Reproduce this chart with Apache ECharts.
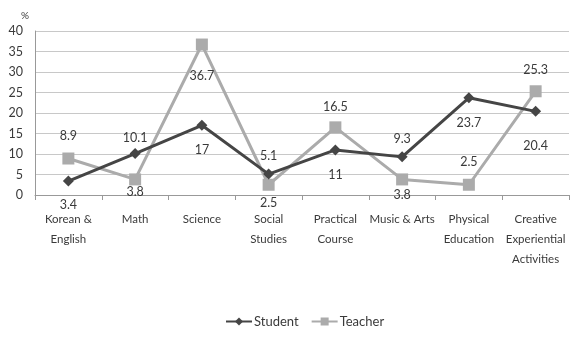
<!DOCTYPE html>
<html>
<head>
<meta charset="utf-8">
<script src="https://cdn.jsdelivr.net/npm/echarts@6/dist/echarts.min.js"></script>
<style>
  html, body { margin: 0; padding: 0; background: #fff; }
  #chart { width: 571px; height: 343px; }
</style>
</head>
<body>
<div id="chart"></div>
<script>
// Subject categories (x axis)
const categories = [
  'Korean &\nEnglish', 'Math', 'Science', 'Social\nStudies',
  'Practical\nCourse', 'Music & Arts', 'Physical\nEducation',
  'Creative\nExperiential\nActivities'
];
// Percentages per group
const studentValues = [3.4, 10.1, 17, 5.1, 11, 9.3, 23.7, 20.4];
const teacherValues = [8.9, 3.8, 36.7, 2.5, 16.5, 3.8, 2.5, 25.3];

// Vertical shift (px) of each value label from its point: negative = above
const studentLabelShift = [24, -16, 25, -18, 25, -18, 25, 35];
const teacherLabelShift = [-23, 13, 31, 18, -20, 16, -23, -21];

const FONT = 'Lato, "Liberation Sans", sans-serif';
const TEXT = '#3a3a3a';

function withLabels(values, shifts) {
  return values.map((v, i) => ({
    value: v,
    label: { position: 'inside', offset: [0, shifts[i]] }
  }));
}

const chart = echarts.init(document.getElementById('chart'));
chart.setOption({
  animation: false,
  textStyle: { fontFamily: FONT },
  grid: { left: 35, right: 2, top: 31, bottom: 148 },
  legend: {
    bottom: 10,
    left: 220,
    itemGap: 12,
    itemWidth: 26,
    itemHeight: 10,
    textStyle: { fontFamily: FONT, fontSize: 13, color: TEXT, padding: [0, 0, 0, -3] },
    data: ['Student', 'Teacher']
  },
  xAxis: {
    type: 'category',
    data: categories,
    boundaryGap: true,
    axisLine: { lineStyle: { color: '#999' } },
    axisTick: { show: true, alignWithLabel: false, length: 5, lineStyle: { color: '#999' } },
    axisLabel: {
      interval: 0,
      fontFamily: FONT,
      fontSize: 11.5,
      color: TEXT,
      lineHeight: 20,
      margin: 14
    }
  },
  yAxis: {
    type: 'value',
    name: '%',
    nameGap: 10,
    nameLocation: 'end',
    nameTextStyle: { fontFamily: FONT, fontSize: 10, color: TEXT, align: 'right', padding: [0, 6, 0, 0] },
    min: 0,
    max: 40,
    interval: 5,
    axisLine: { show: true, lineStyle: { color: '#999' } },
    axisTick: { show: false },
    axisLabel: { fontFamily: FONT, fontSize: 12.5, color: TEXT, margin: 12 },
    splitLine: { lineStyle: { color: '#c8c8c8', width: 1 } }
  },
  series: [
    {
      name: 'Student',
      type: 'line',
      data: withLabels(studentValues, studentLabelShift),
      symbol: 'diamond',
      symbolSize: 11,
      lineStyle: { color: '#454545', width: 3 },
      itemStyle: { color: '#454545' },
      label: { show: true, fontFamily: FONT, fontSize: 12.5, color: TEXT },
      z: 3
    },
    {
      name: 'Teacher',
      type: 'line',
      data: withLabels(teacherValues, teacherLabelShift),
      symbol: 'rect',
      symbolSize: 12,
      lineStyle: { color: '#ababab', width: 3 },
      itemStyle: { color: '#ababab' },
      label: { show: true, fontFamily: FONT, fontSize: 12.5, color: TEXT },
      z: 2
    }
  ]
});
</script>
</body>
</html>
